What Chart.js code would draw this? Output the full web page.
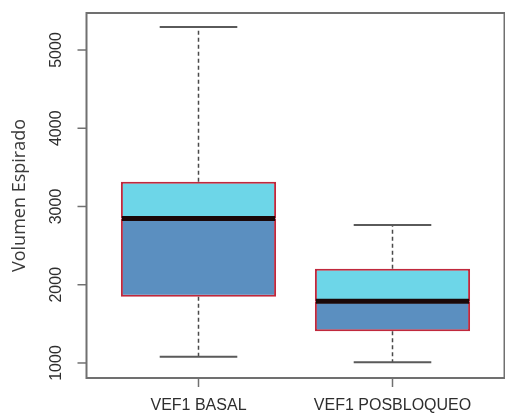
<!DOCTYPE html>
<html><head><meta charset="utf-8">
<script src="https://cdn.jsdelivr.net/npm/chart.js@4/dist/chart.umd.min.js"></script>
<style>html,body{margin:0;padding:0;background:#fff}#wrap{width:505px;height:414px}</style>
</head><body><div id="wrap"><canvas id="c" width="505" height="414"></canvas></div>
<script>
const categories = ['VEF1 BASAL', 'VEF1 POSBLOQUEO'];
const whiskerMin = [1080, 1010];
const q1 = [1845, 1405];
const median = [2845, 1790];
const q3 = [3315, 2205];
const whiskerMax = [5295, 2765];
const yTicks = [1000, 2000, 3000, 4000, 5000];
const yTitle = 'Volumen Espirado';

const lowerBox = categories.map((_, i) => [q1[i], median[i]]);
const upperBox = categories.map((_, i) => [median[i], q3[i]]);

const BOX_BORDER = '#c0283c';
const TEXT = '#2e2e2e';
const FRAME = '#707070';

const boxPlugin = {
  id: 'rbox',
  afterDatasetsDraw(chart) {
    const ctx = chart.ctx;
    const xs = chart.scales.x, ys = chart.scales.y;
    const meta = chart.getDatasetMeta(0);
    ctx.save();
    categories.forEach((_, i) => {
      const el = meta.data[i];
      const cx = xs.getPixelForValue(i);
      const half = el.width / 2;
      ctx.strokeStyle = '#4a4a4a';
      ctx.lineWidth = 1.5;
      ctx.setLineDash([4, 3]);
      ctx.beginPath();
      ctx.moveTo(cx, ys.getPixelForValue(q3[i]));
      ctx.lineTo(cx, ys.getPixelForValue(whiskerMax[i]));
      ctx.moveTo(cx, ys.getPixelForValue(q1[i]));
      ctx.lineTo(cx, ys.getPixelForValue(whiskerMin[i]));
      ctx.stroke();
      ctx.setLineDash([]);
      ctx.strokeStyle = '#5a5a5a';
      ctx.lineWidth = 2;
      ctx.beginPath();
      [whiskerMax[i], whiskerMin[i]].forEach(v => {
        const y = ys.getPixelForValue(v);
        ctx.moveTo(cx - half / 2, y);
        ctx.lineTo(cx + half / 2, y);
      });
      ctx.stroke();
      ctx.strokeStyle = '#1a0808';
      ctx.lineWidth = 5;
      ctx.beginPath();
      const my = ys.getPixelForValue(median[i]);
      ctx.moveTo(cx - half + 1, my);
      ctx.lineTo(cx + half - 1, my);
      ctx.stroke();
    });
    ctx.restore();
  },
  afterDraw(chart) {
    const ctx = chart.ctx;
    const xs = chart.scales.x, ys = chart.scales.y;
    const area = chart.chartArea;
    const step = xs.getPixelForValue(1) - xs.getPixelForValue(0);
    const left = Math.round(xs.getPixelForValue(0) - 0.58 * step) + 0.5;
    const right = Math.round(xs.getPixelForValue(categories.length - 1) + 0.58 * step) - 0.5;
    const top = area.top, bottom = area.bottom;
    ctx.save();
    ctx.strokeStyle = FRAME;
    ctx.lineWidth = 2;
    ctx.strokeRect(left, top, right - left, bottom - top);
    ctx.lineWidth = 1.5;
    ctx.fillStyle = TEXT;
    ctx.font = '16px "Liberation Sans", Arial, sans-serif';
    ctx.textAlign = 'center';
    ctx.textBaseline = 'middle';
    yTicks.forEach(v => {
      const y = ys.getPixelForValue(v);
      ctx.beginPath();
      ctx.moveTo(left, y);
      ctx.lineTo(left - 9, y);
      ctx.stroke();
      ctx.save();
      ctx.translate(left - 30, y);
      ctx.rotate(-Math.PI / 2);
      ctx.fillText(String(v), 0, 0);
      ctx.restore();
    });
    categories.forEach((c, i) => {
      const x = xs.getPixelForValue(i);
      ctx.beginPath();
      ctx.moveTo(x, bottom);
      ctx.lineTo(x, bottom + 9);
      ctx.stroke();
      ctx.fillText(c, x, bottom + 28);
    });
    ctx.save();
    ctx.font = '18px "Open Sans", sans-serif';
    ctx.fillStyle = '#3a3a3a';
    ctx.translate(20, (top + bottom) / 2);
    ctx.rotate(-Math.PI / 2);
    ctx.fillText(yTitle, 0, 0);
    ctx.restore();
    ctx.restore();
  }
};

new Chart(document.getElementById('c'), {
  type: 'bar',
  data: {
    labels: categories,
    datasets: [
      { label: 'Q1-Mediana', data: lowerBox, backgroundColor: '#5b8fc0', borderColor: BOX_BORDER,
        borderWidth: 2, borderSkipped: false, grouped: false, barPercentage: 0.8, categoryPercentage: 1 },
      { label: 'Mediana-Q3', data: upperBox, backgroundColor: '#6dd6e8', borderColor: BOX_BORDER,
        borderWidth: 2, borderSkipped: false, grouped: false, barPercentage: 0.8, categoryPercentage: 1 }
    ]
  },
  options: {
    responsive: false,
    animation: false,
    layout: { padding: { left: 101.5, right: 15.5, top: 13, bottom: 36 } },
    plugins: { legend: { display: false }, tooltip: { enabled: false } },
    scales: {
      x: { display: false, offset: true },
      y: { display: false, min: 808, max: 5473 }
    }
  },
  plugins: [boxPlugin]
});
</script>
</body></html>
